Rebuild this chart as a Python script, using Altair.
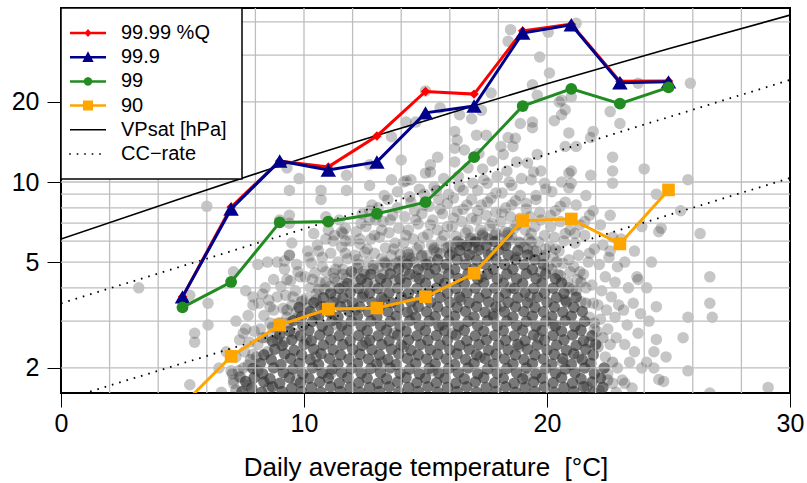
import altair as alt
import pandas as pd

# ---------------- data ----------------
temps = [5, 7, 9, 11, 13, 15, 17, 19, 21, 23, 25]
q9999 = [3.7, 8.05, 12.0, 11.4, 14.9, 21.9, 21.4, 37.0, 39.2, 23.9, 24.0]
q999 = [3.7, 7.92, 12.0, 11.1, 11.9, 18.2, 19.3, 36.3, 39.0, 23.6, 23.8]
q99 = [3.38, 4.21, 7.05, 7.1, 7.6, 8.4, 12.4, 19.3, 22.4, 19.7, 22.7]
q90 = [1.45, 2.21, 2.9, 3.33, 3.36, 3.70, 4.54, 7.16, 7.26, 5.85, 9.34]

vpsat_t = [0, 5, 10, 15, 20, 25, 30]
vpsat_p = [6.1, 8.7, 12.3, 17.0, 23.4, 31.7, 42.4]

cc_t = [0, 30, 0, 30]
cc_p = [3.5, 24.2, 1.51, 10.35]
cc_g = ["upper", "upper", "lower", "lower"]

series_names = ["99.99 %Q", "99.9", "99", "90", "VPsat [hPa]", "CC\u2212rate"]

x_ticks = [0, 10, 20, 30]
y_ticks = [2, 5, 10, 20]
x_grid = [2, 4, 6, 8, 10, 12, 14, 16, 18, 20, 22, 24, 26, 28]
y_grid = [2, 3, 4, 5, 6, 7, 8, 9, 10, 20, 30, 40]

# dense core of the cloud (temperature, precipitation)
core_pts = [
    (7.45,1.63),(7.6,1.78),
    (7.85,1.68),(7.95,1.84),(7.9,1.99),
    (8.25,1.62),(8.35,1.77),(8.3,1.90),(8.2,2.08),(8.35,2.24),
    (8.7,1.70),(8.6,1.82),(8.75,2.00),(8.65,2.15),(8.8,2.35),(8.7,2.52),
    (9.1,1.63),(9.0,1.75),(9.15,1.92),(9.05,2.06),(9.2,2.26),(9.1,2.43),(9.0,2.66),
    (9.5,1.68),(9.4,1.84),(9.55,1.98),(9.45,2.17),(9.6,2.33),(9.5,2.55),(9.4,2.75),(9.55,3.01),
    (9.9,1.63),(9.85,1.76),(9.95,1.90),(9.8,2.08),(9.9,2.24),(10.0,2.45),(9.85,2.64),(9.95,2.89),(9.9,3.12),(9.8,3.38),
    (10.3,1.69),(10.2,1.83),(10.35,2.00),(10.25,2.15),(10.4,2.35),(10.3,2.53),(10.2,2.77),(10.35,2.99),(10.25,3.26),(10.4,3.52),
    (10.7,1.62),(10.65,1.77),(10.75,1.91),(10.6,2.06),(10.7,2.26),(10.8,2.44),(10.65,2.66),(10.75,2.87),(10.6,3.13),(10.7,3.40),(10.8,3.67),
    (11.1,1.70),(11.0,1.83),(11.15,1.98),(11.05,2.17),(11.2,2.34),(11.1,2.55),(11.0,2.76),(11.15,3.01),(11.05,3.24),(11.2,3.54),(11.1,3.82),
    (11.5,1.63),(11.45,1.75),(11.55,1.92),(11.4,2.07),(11.5,2.24),(11.6,2.45),(11.45,2.64),(11.55,2.89),(11.4,3.11),(11.5,3.40),(11.6,3.67),(11.45,3.98),
    (11.9,1.69),(11.8,1.84),(11.95,1.99),(11.85,2.16),(12.0,2.35),(11.9,2.53),(11.8,2.77),(11.95,3.00),(11.85,3.26),(12.0,3.52),(11.9,3.84),(11.8,4.15),
    (12.3,1.62),(12.25,1.76),(12.35,1.91),(12.2,2.08),(12.3,2.25),(12.4,2.43),(12.25,2.65),(12.35,2.88),(12.2,3.13),(12.3,3.39),(12.4,3.69),(12.25,3.98),(12.35,4.32),
    (12.7,1.69),(12.6,1.83),(12.75,1.99),(12.65,2.16),(12.8,2.34),(12.7,2.54),(12.6,2.76),(12.75,3.00),(12.65,3.25),(12.8,3.53),(12.7,3.83),(12.6,4.16),(12.75,4.50),
    (13.1,1.63),(13.05,1.75),(13.15,1.92),(13.0,2.07),(13.1,2.24),(13.2,2.45),(13.05,2.64),(13.15,2.89),(13.0,3.11),(13.1,3.40),(13.2,3.67),(13.05,3.98),(13.15,4.33),
    (13.5,1.70),(13.4,1.82),(13.55,2.00),(13.45,2.15),(13.6,2.35),(13.5,2.53),(13.4,2.77),(13.55,2.99),(13.45,3.26),(13.6,3.52),(13.5,3.84),(13.4,4.15),(13.55,4.52),
    (13.9,1.62),(13.85,1.77),(13.95,1.91),(13.8,2.06),(13.9,2.26),(14.0,2.44),(13.85,2.66),(13.95,2.87),(13.8,3.13),(13.9,3.39),(14.0,3.69),(13.85,3.99),(13.95,4.32),(13.9,4.71),
    (14.3,1.69),(14.2,1.84),(14.35,1.98),(14.25,2.17),(14.4,2.33),(14.3,2.55),(14.2,2.75),(14.35,3.01),(14.25,3.24),(14.4,3.54),(14.3,3.82),(14.2,4.17),(14.35,4.50),(14.25,4.91),
    (14.7,1.63),(14.65,1.76),(14.75,1.90),(14.6,2.08),(14.7,2.24),(14.8,2.45),(14.65,2.64),(14.75,2.89),(14.6,3.11),(14.7,3.40),(14.8,3.67),(14.65,3.98),(14.75,4.33),(14.7,4.69),
    (15.1,1.70),(15.0,1.83),(15.15,1.99),(15.05,2.16),(15.2,2.34),(15.1,2.54),(15.0,2.76),(15.15,3.00),(15.05,3.25),(15.2,3.53),(15.1,3.83),(15.0,4.16),(15.15,4.51),(15.05,4.90),
    (15.5,1.62),(15.45,1.76),(15.55,1.91),(15.4,2.07),(15.5,2.25),(15.6,2.44),(15.45,2.65),(15.55,2.88),(15.4,3.12),(15.5,3.39),(15.6,3.68),(15.45,3.99),(15.55,4.33),(15.4,4.70),(15.5,5.10),
    (15.9,1.69),(15.8,1.83),(15.95,1.99),(15.85,2.16),(16.0,2.34),(15.9,2.54),(15.8,2.76),(15.95,3.00),(15.85,3.25),(16.0,3.53),(15.9,3.83),(15.8,4.16),(15.95,4.51),(15.85,4.90),(16.0,5.32),
    (16.3,1.63),(16.25,1.75),(16.35,1.92),(16.2,2.06),(16.3,2.26),(16.4,2.43),(16.25,2.66),(16.35,2.87),(16.2,3.13),(16.3,3.38),(16.4,3.69),(16.25,3.98),(16.35,4.34),(16.2,4.69),(16.3,5.11),(16.4,5.53),
    (16.7,1.70),(16.6,1.82),(16.75,2.00),(16.65,2.15),(16.8,2.35),(16.7,2.53),(16.6,2.77),(16.75,2.99),(16.65,3.26),(16.8,3.52),(16.7,3.84),(16.6,4.15),(16.75,4.52),(16.65,4.89),(16.8,5.33),(16.7,5.76),
    (17.1,1.62),(17.05,1.77),(17.15,1.90),(17.0,2.08),(17.1,2.24),(17.2,2.45),(17.05,2.64),(17.15,2.89),(17.0,3.11),(17.1,3.40),(17.2,3.67),(17.05,3.99),(17.15,4.32),(17.0,4.71),(17.1,5.09),(17.2,5.55),(17.05,5.95),
    (17.5,1.69),(17.4,1.84),(17.55,1.98),(17.45,2.17),(17.6,2.33),(17.5,2.55),(17.4,2.75),(17.55,3.01),(17.45,3.24),(17.6,3.54),(17.5,3.82),(17.4,4.17),(17.55,4.50),(17.45,4.91),(17.6,5.31),(17.5,5.78),
    (17.9,1.63),(17.85,1.76),(17.95,1.91),(17.8,2.07),(17.9,2.25),(18.0,2.44),(17.85,2.65),(17.95,2.88),(17.8,3.12),(17.9,3.39),(18.0,3.68),(17.85,3.99),(17.95,4.33),(17.8,4.70),(17.9,5.10),(18.0,5.54),(17.85,5.97),
    (18.3,1.70),(18.2,1.83),(18.35,1.99),(18.25,2.16),(18.4,2.34),(18.3,2.54),(18.2,2.76),(18.35,3.00),(18.25,3.25),(18.4,3.53),(18.3,3.83),(18.2,4.16),(18.35,4.51),(18.25,4.90),(18.4,5.32),(18.3,5.77),
    (18.7,1.62),(18.65,1.75),(18.75,1.92),(18.6,2.07),(18.7,2.24),(18.8,2.45),(18.65,2.64),(18.75,2.89),(18.6,3.11),(18.7,3.40),(18.8,3.67),(18.65,3.98),(18.75,4.33),(18.6,4.70),(18.7,5.10),(18.8,5.53),
    (19.1,1.69),(19.0,1.82),(19.15,2.00),(19.05,2.15),(19.2,2.35),(19.1,2.53),(19.0,2.77),(19.15,2.99),(19.05,3.26),(19.2,3.52),(19.1,3.84),(19.0,4.15),(19.15,4.52),(19.05,4.89),(19.2,5.32),
    (19.5,1.63),(19.45,1.77),(19.55,1.90),(19.4,2.08),(19.5,2.24),(19.6,2.44),(19.45,2.66),(19.55,2.87),(19.4,3.13),(19.5,3.38),(19.6,3.69),(19.45,3.98),(19.55,4.34),(19.4,4.69),(19.5,5.10),
    (19.9,1.70),(19.8,1.83),(19.95,1.99),(19.85,2.16),(20.0,2.34),(19.9,2.54),(19.8,2.76),(19.95,3.00),(19.85,3.25),(20.0,3.53),(19.9,3.83),(19.8,4.16),(19.95,4.51),(19.85,4.90),
    (20.3,1.62),(20.25,1.76),(20.35,1.91),(20.2,2.07),(20.3,2.25),(20.4,2.44),(20.25,2.65),(20.35,2.88),(20.2,3.12),(20.3,3.39),(20.4,3.68),(20.25,3.99),(20.35,4.33),
    (20.7,1.69),(20.6,1.84),(20.75,1.98),(20.65,2.17),(20.8,2.33),(20.7,2.55),(20.6,2.75),(20.75,3.01),(20.65,3.24),(20.8,3.54),(20.7,3.82),(20.6,4.17),
    (21.1,1.63),(21.05,1.75),(21.15,1.92),(21.0,2.06),(21.1,2.26),(21.2,2.43),(21.05,2.66),(21.15,2.87),(21.0,3.13),(21.1,3.38),(21.2,3.69),
    (21.5,1.70),(21.4,1.82),(21.55,2.00),(21.45,2.15),(21.6,2.35),(21.5,2.53),(21.4,2.77),(21.55,2.99),(21.45,3.26),
    (21.9,1.62),(21.85,1.77),(21.95,1.90),(21.8,2.08),(21.9,2.24),(22.0,2.45),(21.85,2.64),
    (22.3,1.69),(22.2,1.83),(22.35,2.00),
]

# irregular points over the core and its upper edge
mid_pts = [
    (7.2,1.65),(7.35,1.85),(7.65,1.72),(7.8,2.15),(7.5,2.0),(7.05,1.9),
    (8.1,1.95),(8.5,2.3),(8.9,2.55),(8.3,2.6),(8.7,2.85),(8.05,2.2),(8.55,1.68),
    (9.2,2.5),(9.35,2.95),(9.75,3.1),(9.6,2.7),(9.9,3.55),(9.3,3.3),(9.7,1.8),
    (10.15,3.35),(10.5,3.6),(10.85,3.4),(10.45,3.1),(10.1,2.55),(10.6,3.95),(10.9,4.2),(10.5,2.2),
    (11.3,3.7),(11.65,4.05),(11.25,4.35),(11.75,3.45),(11.6,4.5),(11.35,2.9),(11.95,4.6),(11.1,1.9),
    (12.15,4.2),(12.5,4.5),(12.85,4.85),(12.45,3.8),(12.2,4.75),(12.9,4.1),(12.55,2.5),(12.1,3.3),
    (13.25,4.5),(13.6,4.85),(13.95,5.05),(13.35,4.95),(13.75,4.3),(13.3,3.6),(13.7,2.7),(13.2,2.1),
    (14.15,4.65),(14.5,5.0),(14.85,5.3),(14.3,5.35),(14.6,4.4),(14.9,4.85),(14.45,3.3),(14.1,2.4),
    (15.2,5.0),(15.6,5.4),(15.95,5.7),(15.35,5.65),(15.75,4.75),(15.25,3.9),(15.7,2.9),(15.3,1.95),
    (16.1,5.45),(16.5,5.8),(16.85,6.15),(16.3,5.95),(16.65,5.15),(16.95,5.6),(16.45,3.6),(16.1,2.7),
    (17.2,5.75),(17.6,6.1),(17.9,6.4),(17.35,6.3),(17.7,5.4),(17.3,4.4),(17.8,3.2),(17.25,2.2),
    (18.2,5.8),(18.55,6.2),(18.9,5.9),(18.4,6.45),(18.75,5.2),(18.5,4.0),(18.1,3.4),(18.85,2.4),
    (19.2,5.6),(19.55,5.5),(19.9,5.3),(19.35,5.95),(19.75,4.6),(19.3,3.7),(19.65,2.6),(19.15,1.85),
    (20.2,4.7),(20.55,4.45),(20.9,4.0),(20.4,5.0),(20.75,3.6),(20.25,2.9),(20.65,2.1),
    (21.2,3.9),(21.6,3.5),(21.95,2.95),(21.4,4.2),(21.75,2.5),(21.3,2.2),(21.65,1.7),
    (22.1,2.4),(22.5,1.8),(22.3,2.6),(22.7,2.1),(22.15,1.65),
]

# medium-density fringe above the core
fringe_pts = [
    (7.1,1.75),(7.3,1.95),(7.7,2.05),(7.2,2.2),(7.55,2.3),(7.9,2.25),(7.35,2.55),(7.75,2.5),(7.6,2.8),(7.95,2.75),(7.2,3.0),(7.7,3.15),(7.9,3.45),
    (8.1,2.45),(8.45,2.6),(8.85,2.7),(8.2,2.8),(8.6,2.95),(8.95,2.95),(8.35,3.15),(8.75,3.3),(8.15,3.5),(8.55,3.6),(8.9,3.7),(8.4,4.0),(8.75,4.3),
    (9.05,2.95),(9.3,3.1),(9.7,3.25),(9.15,3.35),(9.5,3.45),(9.95,3.6),(9.25,3.75),(9.65,3.9),(9.05,4.05),(9.45,4.25),(9.85,4.4),(9.2,4.7),(9.7,4.9),(9.4,5.3),
    (10.1,3.65),(10.5,3.8),(10.85,3.95),(10.25,4.0),(10.65,4.2),(10.05,4.4),(10.45,4.55),(10.9,4.6),(10.3,4.95),(10.75,5.2),(10.15,5.5),(10.55,5.8),(10.9,6.1),(10.4,6.4),
    (11.05,4.05),(11.35,4.2),(11.75,4.35),(11.2,4.55),(11.6,4.7),(11.95,4.6),(11.4,5.0),(11.8,5.15),(11.1,5.4),(11.55,5.7),(11.9,6.0),(11.25,6.3),(11.7,6.7),(11.45,7.2),
    (12.05,4.55),(12.45,4.6),(12.85,4.7),(12.25,4.9),(12.65,5.0),(12.1,5.3),(12.5,5.45),(12.9,5.4),(12.3,5.85),(12.75,6.1),(12.15,6.5),(12.55,6.8),(12.95,7.2),(12.4,7.6),(12.8,8.2),
    (13.05,4.75),(13.4,4.85),(13.8,4.95),(13.2,5.15),(13.6,5.3),(13.95,5.35),(13.35,5.65),(13.75,5.9),(13.1,6.2),(13.5,6.45),(13.9,6.7),(13.25,7.1),(13.65,7.5),(13.05,8.0),(13.45,8.6),(13.85,9.2),
    (14.05,5.05),(14.45,5.15),(14.85,5.25),(14.25,5.45),(14.65,5.6),(14.1,5.9),(14.5,6.1),(14.9,6.2),(14.3,6.6),(14.7,6.95),(14.15,7.4),(14.55,7.8),(14.95,8.2),(14.35,8.8),(14.75,9.4),(14.2,10.1),
    (15.05,5.3),(15.45,5.45),(15.85,5.65),(15.25,5.8),(15.65,6.0),(15.1,6.35),(15.5,6.6),(15.9,6.8),(15.3,7.2),(15.7,7.6),(15.15,8.1),(15.55,8.6),(15.95,9.0),(15.35,9.6),(15.75,10.3),(15.2,10.9),
    (16.05,5.75),(16.45,5.85),(16.85,6.0),(16.25,6.25),(16.65,6.45),(16.1,6.8),(16.5,7.1),(16.9,7.3),(16.3,7.75),(16.7,8.2),(16.15,8.7),(16.55,9.3),(16.95,9.9),(16.35,10.5),(16.75,11.3),(16.2,11.9),
    (17.05,6.1),(17.45,6.2),(17.85,6.3),(17.25,6.6),(17.65,6.85),(17.1,7.2),(17.5,7.5),(17.9,7.7),(17.3,8.2),(17.7,8.7),(17.15,9.3),(17.55,9.9),(17.95,10.5),(17.35,11.2),(17.75,12.0),(17.2,12.8),
    (18.05,6.1),(18.45,6.05),(18.85,5.95),(18.25,6.5),(18.65,6.7),(18.1,7.1),(18.5,7.4),(18.9,7.3),(18.3,8.0),(18.7,8.5),(18.15,9.1),(18.55,9.7),(18.95,10.3),(18.35,11.0),(18.75,11.9),(18.2,12.7),(18.6,13.6),
    (19.05,5.7),(19.45,5.5),(19.85,5.2),(19.25,6.1),(19.65,5.95),(19.95,5.6),(19.1,6.6),(19.5,6.8),(19.9,6.3),(19.3,7.4),(19.7,7.7),(19.15,8.3),(19.55,8.9),(19.95,9.4),(19.35,10.2),(19.75,11.0),(19.2,11.8),(19.6,12.7),
    (20.05,4.8),(20.45,4.5),(20.85,4.2),(20.25,5.2),(20.65,4.95),(20.95,4.6),(20.1,5.7),(20.5,5.5),(20.9,5.1),(20.3,6.2),(20.7,6.0),(20.15,6.8),(20.55,7.1),(20.95,6.6),(20.35,7.8),(20.75,8.4),(20.2,9.2),(20.6,10.0),(20.9,10.8),
    (21.05,3.95),(21.4,3.55),(21.75,3.1),(21.95,2.8),(21.25,4.3),(21.6,4.0),(21.9,3.5),(21.1,4.8),(21.5,4.5),(21.85,4.1),(21.3,5.3),(21.7,5.0),(21.15,5.9),(21.55,6.3),(21.95,5.6),(21.35,6.9),(21.75,7.5),(21.2,8.2),(21.6,8.9),
    (22.05,2.75),(22.4,2.2),(22.7,1.75),(22.9,2.0),(22.6,2.45),(22.2,3.05),(22.5,2.8),(22.85,2.6),(22.1,3.45),(22.45,3.3),(22.8,3.1),(22.25,3.9),(22.65,3.7),(22.95,3.45),(22.4,4.4),(22.8,4.2),(22.15,4.9),(22.55,5.2),(22.9,4.8),(22.3,5.8),(22.7,6.2),(22.5,1.9),(22.85,1.62),(22.2,6.9),
    (23.1,1.8),(23.4,2.1),(23.2,2.45),(23.6,2.3),(23.3,2.9),(23.75,2.7),(23.15,3.3),(23.55,3.5),(23.85,3.2),(23.35,4.0),(23.7,4.4),(23.2,5.0),(23.6,5.5),(23.9,2.0),(23.5,1.68),(23.05,6.1),
    (12.2,5.1),(12.6,5.6),(12.9,6.3),(12.35,7.0),(12.7,7.8),(13.3,5.0),(13.7,5.6),(13.2,6.6),(13.55,7.2),(13.85,8.0),(13.3,8.9),
    (14.35,5.2),(14.75,5.75),(14.2,6.3),(14.6,7.2),(14.85,7.6),(14.4,8.4),(14.95,9.0),(15.35,5.55),(15.75,6.3),(15.2,6.9),(15.6,7.9),(15.9,8.3),(15.45,9.3),
    (16.35,6.0),(16.75,6.6),(16.15,7.3),(16.55,7.9),(16.9,8.6),(16.4,9.6),(17.35,6.4),(17.75,7.0),(17.15,7.8),(17.55,8.4),(17.9,9.1),(17.4,10.2),
    (18.35,6.3),(18.75,6.9),(18.15,7.7),(18.55,8.2),(18.9,8.9),(18.45,10.0),(19.35,6.4),(19.75,7.2),(19.15,7.9),(19.55,8.6),(19.9,9.9),(19.45,10.9),
    (20.35,5.6),(20.75,6.4),(20.15,7.5),(20.55,8.1),(20.9,9.5),(21.35,4.6),(21.75,5.4),(21.15,6.4),(21.55,7.1),(21.9,7.8),
    (10.35,4.3),(10.75,4.8),(10.2,5.2),(10.6,5.5),(11.3,4.7),(11.7,5.4),(11.2,6.0),(11.6,6.4),(9.3,4.3),(9.75,4.6),(9.55,3.7),(8.6,3.4),(8.3,3.8),(7.5,2.7),
]

# isolated points
sparse_pts = [
    (3.2,4.0),(6.0,8.1),(5.3,3.75),(6.05,3.5),(7.1,4.6),(6.05,2.9),(5.5,2.7),(5.5,2.5),(5.3,1.73),(6.5,2.0),(6.8,2.3),
    (7.6,3.9),(7.9,3.7),(8.1,4.9),(8.5,5.0),(8.9,5.0),(9.2,5.05),(9.4,5.3),(9.4,9.3),(9.5,5.9),(7.1,1.8),(7.0,1.95),
    (6.6,1.62),(7.4,1.85),(9.3,11.3),(9.8,10.3),(10.7,9.3),(10.7,8.6),(11.75,10.6),(11.75,9.3),(12.7,9.7),(12.7,11.6),
    (10.9,7.4),(11.0,6.6),(9.4,7.5),(9.4,7.0),(9.0,7.2),(15.0,22.0),(14.2,16.8),(15.6,19.0),(16.4,17.9),(16.9,17.3),
    (17.3,18.6),(17.7,21.6),(14.0,12.1),(15.5,12.4),(15.2,11.6),(16.2,15.5),(16.3,14.4),(16.2,13.4),(16.6,13.2),
    (17.1,15.0),(17.5,15.0),(18.1,13.6),(18.4,14.7),(18.7,14.6),(18.9,16.6),(19.4,16.8),(19.4,16.0),(18.5,37.4),
    (18.4,33.8),(19.7,29.5),(20.1,25.7),(19.4,23.2),(19.6,21.2),(20.5,20.0),(20.75,18.7),(20.3,17.0),(13.6,14.8),
    (14.6,16.8),(13.6,10.2),(14.1,10.0),(14.4,10.2),(15.0,10.8),(20.05,36.6),(21.2,39.5),(23.75,23.5),(25.9,23.5),
    (21.0,20.9),(20.6,20.3),(20.6,17.9),(22.6,18.4),(23.0,16.6),(21.9,15.5),(21.8,14.7),(20.9,15.3),(20.75,13.6),
    (21.2,13.6),(22.7,12.4),(22.7,11.0),(22.7,9.9),(21.8,10.6),(21.0,9.9),(21.0,11.0),(24.0,11.2),(25.8,10.2),
    (24.5,9.0),(25.5,7.8),(26.3,6.4),(24.7,6.7),(24.6,6.5),(26.7,4.4),(26.7,3.5),(26.8,3.1),(24.5,3.4),(25.8,3.1),
    (25.6,2.6),(25.8,1.95),(24.6,1.81),(26.7,1.61),(29.1,1.69),(22.6,7.5),(22.6,5.5),(23.75,4.3),(24.5,2.56),
    (24.4,2.3),(24.1,2.1),(24.4,2.0),(24.8,1.78),(23.2,1.75),(11.55,6.5),(11.7,6.0),(12.3,6.1),(12.7,7.2),
    (24.3,5.0),(24.1,4.0),(24.2,3.0),(23.9,6.8),(24.9,2.2),
]

# ---------------- styles ----------------
FONT = "Liberation Sans"
series_colors = ["#ff0000", "#00008b", "#228b22", "#ffa500", "#000000", "#000000"]


def _rect(x0, y0, x1, y1):
    return f"M{x0},{y0}H{x1}V{y1}H{x0}Z"


LINE_Q = _rect(-2.571, -0.179, 2.571, 0.179)
LINE_T = _rect(-2.571, -0.107, 2.571, 0.107)
CIRC = ("M0.621,0L0.538,0.311L0.311,0.538L0,0.621L-0.311,0.538L-0.538,0.311L-0.621,0"
        "L-0.538,-0.311L-0.311,-0.538L0,-0.621L0.311,-0.538L0.538,-0.311Z")
DOTS = "".join(_rect(round(c - 0.114, 3), -0.114, round(c + 0.114, 3), 0.114)
               for c in [-2.571, -1.5, -0.429, 0.643, 1.714])
legend_symbols = [
    LINE_Q + "M0,-0.571L0.5,0L0,0.571L-0.5,0Z",
    LINE_Q + "M0,-0.857L0.807,0.671L-0.807,0.671Z",
    LINE_Q + CIRC,
    LINE_Q + _rect(-0.714, -0.714, 0.714, 0.714),
    LINE_T,
    DOTS,
]

X = alt.X(
    "t:Q",
    scale=alt.Scale(domain=[0, 30], nice=False, zero=False),
    axis=alt.Axis(values=x_ticks, title="Daily average temperature\u00a0 [°C]", grid=False,
                  domain=False, tickSize=14, tickColor="black", tickWidth=1,
                  labelFontSize=25, labelFont=FONT, labelColor="black", labelPadding=4,
                  labelFlush=False, titleFontSize=26, titleFont=FONT,
                  titleFontWeight="normal", titleColor="black", titlePadding=12,
                  titleY=74, titleBaseline="middle"),
)
Y = alt.Y(
    "p:Q",
    scale=alt.Scale(type="log", domain=[1.61, 45.1], nice=False),
    axis=alt.Axis(values=y_ticks, title=None, grid=False, domain=False, tickSize=14,
                  tickColor="black", tickWidth=1, labelFontSize=25, labelFont=FONT,
                  labelColor="black", labelPadding=8,
                  labelExpr="format(datum.value, 'd')"),
)

layers = []


def cloud(pts, opacity):
    df = pd.DataFrame(pts, columns=["t", "p"])
    return alt.Chart(df).mark_circle(size=132, color="#333333", opacity=opacity,
                                     clip=True).encode(x=X, y=Y)


layers.append(cloud(core_pts, 0.66))
layers.append(cloud(mid_pts, 0.35))
layers.append(cloud(fringe_pts + sparse_pts, 0.28))

# grid drawn over the cloud
layers.append(alt.Chart(pd.DataFrame({"t": x_grid})).mark_rule(
    color="#bebebe", strokeWidth=1.3).encode(x=X))
layers.append(alt.Chart(pd.DataFrame({"p": y_grid})).mark_rule(
    color="#bebebe", strokeWidth=1.3).encode(y=Y))

# saturation vapour pressure and CC-rate lines
layers.append(alt.Chart(pd.DataFrame({"t": vpsat_t, "p": vpsat_p})).mark_line(
    color="black", strokeWidth=1.6, clip=True, interpolate="monotone").encode(x=X, y=Y))
layers.append(alt.Chart(pd.DataFrame({"t": cc_t, "p": cc_p, "g": cc_g})).mark_line(
    color="black", strokeWidth=1.8, strokeDash=[1.6, 6.0], clip=True).encode(
    x=X, y=Y, detail="g:N"))

q_specs = [
    (q9999, "#ff0000", "diamond", 90),
    (q999, "#00008b", "triangle-up", 240),
    (q99, "#228b22", "circle", 140),
    (q90, "#ffa500", "square", 160),
]
for vals, col, shp, sz in q_specs:
    base = alt.Chart(pd.DataFrame({"t": temps, "p": vals}))
    layers.append(base.mark_line(color=col, strokeWidth=3, clip=True).encode(x=X, y=Y))
    layers.append(base.mark_point(shape=shp, filled=True, size=sz, color=col, opacity=1,
                                  clip=True).encode(x=X, y=Y))

LEG = alt.Legend(title=None, orient="none", legendX=0, legendY=0, padding=15,
                 rowPadding=4.2, labelOffset=23, symbolOffset=2, symbolSize=196,
                 symbolStrokeWidth=0, symbolOpacity=1, labelFontSize=20, labelFont=FONT,
                 labelColor="black", fillColor="white", strokeColor="black", labelLimit=300)

leg_df = pd.DataFrame({"series": series_names, "t": [-5] * 6, "p": [1.0] * 6})
layers.append(alt.Chart(leg_df).mark_point(filled=True, opacity=1, clip=True,
                                           strokeWidth=0).encode(
    x=X, y=Y,
    fill=alt.Fill("series:N", scale=alt.Scale(domain=series_names, range=series_colors),
                  legend=LEG),
    shape=alt.Shape("series:N", scale=alt.Scale(domain=series_names, range=legend_symbols),
                    legend=LEG),
))

chart = (
    alt.layer(*layers)
    .properties(width=729, height=385,
                padding={"left": 61, "top": 8, "right": 17, "bottom": 90},
                autosize=alt.AutoSizeParams(type="none"), background="white")
    .configure(font=FONT)
    .configure_view(stroke="black", strokeWidth=2)
    .configure_legend(strokeWidth=1.5)
)

chart.save("out.html", embed_options={"renderer": "svg", "actions": False})
